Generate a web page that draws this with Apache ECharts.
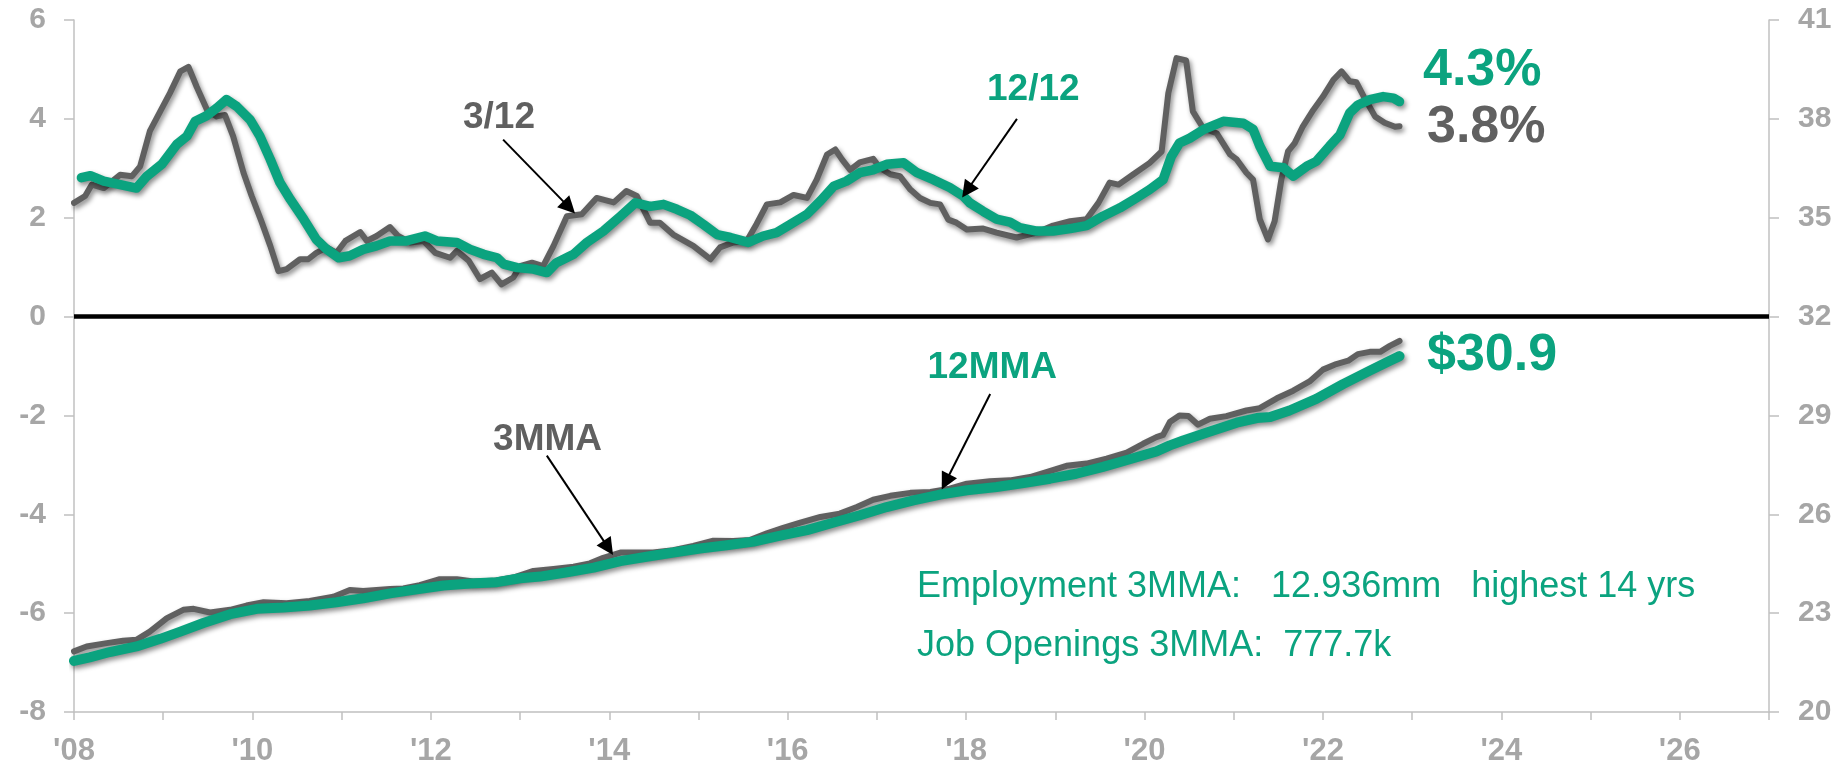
<!DOCTYPE html>
<html>
<head>
<meta charset="utf-8">
<script src="https://cdn.jsdelivr.net/npm/echarts@6/dist/echarts.min.js"></script>
<style>
html,body{margin:0;padding:0;background:#fff;}
#chart{width:1837px;height:767px;}
</style>
</head>
<body>
<div id="chart"></div>
<script>
// Month offsets are counted from Jan 2008 (0 = Jan 2008)
// Upper panel, left axis (%): 3/12 annualized growth (grey)
var m312 = [0,1.5,2.4,4,6.2,7.8,8.9,10.2,11.6,12.9,14.3,15.4,16.5,17.9,19.2,20.3,21.4,22.8,23.9,25.2,26.4,27.5,28.6,30.4,31.5,32.6,34,35.3,36.5,38.5,39.4,40.7,42.5,43.6,45.2,47,48.6,50.6,51.5,53.1,54.6,56.2,57.5,59.1,60,61.6,63.1,64.5,66.3,68.3,70.3,72.6,74.3,75.7,77.5,78.8,80.6,83.3,85.6,86.9,88.7,90.5,91.8,93.2,95,96.8,98.6,99.9,101.3,102.4,103.3,104.4,105.7,107.5,108.4,109.8,111.1,112.5,113.8,115.2,116.5,117.6,118.7,120.1,122.3,124.1,126.8,129.5,131.7,134,136.2,137.8,139.3,140.5,142.5,144.7,146.3,147.2,148.3,149.6,150.5,151.9,153.7,155.5,156.4,157.7,158.6,159.5,160.6,161.5,162.4,163.3,164.2,165.3,166.7,168,169.4,170.5,171.6,172.5,173.6,175,176.3,177.7,178.3];
var v312 = [2.30,2.44,2.67,2.60,2.87,2.84,3.04,3.75,4.15,4.52,4.96,5.05,4.65,4.18,4.05,4.08,3.65,2.91,2.44,1.93,1.43,0.92,0.96,1.16,1.16,1.29,1.40,1.29,1.53,1.71,1.53,1.63,1.81,1.63,1.50,1.53,1.29,1.19,1.33,1.13,0.76,0.89,0.65,0.79,1.02,1.09,1.02,1.43,2.03,2.07,2.40,2.31,2.54,2.44,1.90,1.90,1.66,1.43,1.16,1.40,1.50,1.53,1.87,2.27,2.31,2.46,2.40,2.77,3.28,3.38,3.18,2.97,3.12,3.19,3.01,2.88,2.84,2.57,2.40,2.30,2.27,1.96,1.90,1.76,1.78,1.70,1.60,1.70,1.84,1.93,1.97,2.30,2.71,2.67,2.88,3.11,3.34,4.52,5.23,5.18,4.15,3.81,3.71,3.28,3.18,2.91,2.77,1.97,1.56,1.93,2.77,3.34,3.51,3.85,4.18,4.45,4.79,4.96,4.76,4.74,4.42,4.05,3.92,3.84,3.85];

// Upper panel, left axis (%): 12/12 growth (green)
var m1212 = [1,2.2,4,6.2,8.4,9.8,11.8,13.8,15.2,16.3,17.8,19.2,20.5,21.9,23.7,25,26.4,27.7,29.1,30.9,32.6,34,35.6,37.1,38.9,40.7,42.5,44.7,47.2,48.8,51.5,53.3,55.1,56.9,57.8,59.6,61.8,63.6,64.9,67.2,69,71.2,73.5,75.5,77.5,79.3,81.1,82.9,84.7,86.5,88.3,90.7,92.7,94.5,96.3,98.6,100.4,102.2,103.9,105.7,107.5,109.3,111.6,113.4,115.6,117.8,119.6,120.5,122.3,124.1,125.9,127.2,129.5,131.7,134,136.2,138.4,140.7,142.9,144.7,146.5,147.6,148.7,150.1,151.9,154.6,157.3,158.6,159.5,160.9,162.7,164,165.8,167.1,168.9,170.3,171.6,172.7,174.3,176.1,177.5,178.3];
var v1212 = [2.81,2.85,2.74,2.67,2.60,2.84,3.08,3.48,3.65,3.95,4.06,4.22,4.39,4.25,3.98,3.65,3.18,2.71,2.37,1.97,1.56,1.36,1.19,1.23,1.36,1.43,1.53,1.53,1.63,1.53,1.50,1.36,1.26,1.19,1.06,0.99,0.96,0.89,1.09,1.26,1.50,1.73,2.03,2.30,2.23,2.27,2.17,2.05,1.86,1.66,1.60,1.50,1.63,1.70,1.86,2.07,2.34,2.64,2.74,2.91,2.97,3.08,3.11,2.91,2.77,2.61,2.44,2.30,2.13,1.97,1.91,1.80,1.73,1.73,1.78,1.84,2.03,2.20,2.40,2.57,2.77,3.24,3.51,3.61,3.78,3.95,3.91,3.79,3.45,3.04,3.01,2.84,3.04,3.14,3.45,3.68,4.12,4.28,4.39,4.45,4.42,4.35];

// Lower panel, right axis ($/hr): 3MMA (grey)
var m3mma = [0,1.7,4.4,6.6,8.4,10.2,12.5,14.7,16.1,18.3,21,23.2,25.5,28.6,31.7,34.9,37.1,38.9,40.7,42.5,44.3,46.5,49.2,51.5,53.7,56.4,59.1,61.8,64.5,67.2,69.4,71.2,73.5,75.7,77.9,80.6,83.3,86,88.7,90.9,93.2,95.4,97.7,100.4,103,105.3,107.5,109.8,112.5,115.2,117.8,120.1,123.2,125.9,128.6,130.8,133.5,136.2,138.9,141.6,143.8,145.6,146.5,147.4,148.7,149.9,151.2,152.8,155,157.7,159.5,161.8,164,166.2,168,169.8,171.4,172.7,174.3,175.7,177,178.3];
var v3mma = [21.84,21.99,22.09,22.16,22.19,22.44,22.85,23.10,23.13,23.02,23.10,23.23,23.33,23.30,23.37,23.50,23.70,23.67,23.70,23.73,23.75,23.85,24.03,24.03,23.96,23.98,24.08,24.28,24.34,24.41,24.51,24.68,24.84,24.84,24.84,24.91,25.04,25.20,25.19,25.22,25.42,25.59,25.75,25.92,26.02,26.22,26.44,26.56,26.65,26.68,26.78,26.93,27.00,27.03,27.13,27.28,27.47,27.54,27.69,27.87,28.14,28.34,28.41,28.80,29.00,28.98,28.72,28.90,28.98,29.15,29.22,29.52,29.75,30.03,30.39,30.56,30.66,30.86,30.93,30.93,31.11,31.26];

// Lower panel, right axis ($/hr): 12MMA (green)
var m12mma = [0,2.1,4.8,8.4,11.6,14.3,17.4,21,24.6,28.2,31.7,35.3,38.9,42.5,46.1,49.7,53.3,56.9,60,62.7,66.3,69.9,73.5,77,80.6,84.2,87.8,91.4,95,98.6,102.2,105.7,109.3,112.9,116.5,120.1,124.1,127.7,131.3,134.8,138.4,142,145.6,147.4,149.2,152.8,156.4,159.1,160.9,163.5,167.1,170.7,174.3,177,178.3];
var v12mma = [21.55,21.66,21.82,21.99,22.22,22.44,22.70,22.97,23.13,23.17,23.23,23.33,23.45,23.60,23.72,23.84,23.90,23.94,24.06,24.11,24.24,24.38,24.58,24.71,24.84,24.96,25.06,25.17,25.35,25.52,25.75,25.97,26.22,26.42,26.60,26.73,26.83,26.95,27.08,27.23,27.44,27.67,27.91,28.09,28.24,28.51,28.78,28.92,28.95,29.15,29.50,29.95,30.36,30.66,30.80];

var startYear = 2008;
var leftTicks = {min: -8, max: 6, interval: 2};
var rightTicks = {min: 20, max: 41, interval: 3};
var xTicks = {min: 2008, max: 2027, interval: 1};

var GREEN = '#0ba37f';
var GREY = '#606060';
var FONT = '"Liberation Sans", Arial, sans-serif';

function pairs(ms, vs) {
  return ms.map(function (mm, i) { return [startYear + mm / 12, vs[i]]; });
}

var shadow = {shadowColor: 'rgba(0,0,0,0.45)', shadowBlur: 5, shadowOffsetX: 2, shadowOffsetY: 3};
function ls(color, width) {
  return Object.assign({color: color, width: width, cap: 'round', join: 'round'}, shadow);
}
var arrowStyle = {color: '#000', width: 2, type: 'solid'};

var chart = echarts.init(document.getElementById('chart'), null, {renderer: 'canvas'});

var axisLabelBase = {color: '#a6a6a6', fontWeight: 'bold', fontSize: 30, fontFamily: FONT};

function txt(x, y, s, size, color, align, bold) {
  return {type: 'text', x: x, y: y, z: 10, style: {
    text: s, font: (bold ? 'bold ' : '') + size + 'px ' + FONT, fill: color,
    textAlign: align, textVerticalAlign: 'middle', align: align, verticalAlign: 'middle'}};
}

var option = {
  animation: false,
  backgroundColor: '#ffffff',
  grid: {left: 74, right: 68, top: 20, bottom: 53, containLabel: false},
  xAxis: {
    type: 'value', min: xTicks.min, max: xTicks.max, interval: xTicks.interval,
    axisLine: {show: true, onZero: false, lineStyle: {color: '#c0c0c0', width: 1.5}},
    axisTick: {show: true, length: 8, lineStyle: {color: '#c0c0c0', width: 1.5}},
    splitLine: {show: false},
    axisLabel: Object.assign({}, axisLabelBase, {
      fontSize: 31, margin: 24,
      formatter: function (v) { v = Math.round(v); return (v % 2 === 0) ? "'" + String(v).slice(2) : ''; }
    })
  },
  yAxis: [{
    type: 'value', position: 'left', min: leftTicks.min, max: leftTicks.max, interval: leftTicks.interval,
    axisLine: {show: true, onZero: false, lineStyle: {color: '#c0c0c0', width: 1.5}},
    axisTick: {show: true, length: 10, lineStyle: {color: '#c0c0c0', width: 1.5}},
    splitLine: {show: false},
    axisLabel: Object.assign({}, axisLabelBase, {margin: 28})
  }, {
    type: 'value', position: 'right', min: rightTicks.min, max: rightTicks.max, interval: rightTicks.interval,
    axisLine: {show: true, onZero: false, lineStyle: {color: '#c0c0c0', width: 1.5}},
    axisTick: {show: true, length: 10, lineStyle: {color: '#c0c0c0', width: 1.5}},
    splitLine: {show: false},
    axisLabel: Object.assign({}, axisLabelBase, {margin: 29})
  }],
  series: [{
    name: '3/12', type: 'line', yAxisIndex: 0, data: pairs(m312, v312),
    showSymbol: false, symbol: 'none', lineStyle: ls(GREY, 6), z: 3,
    markLine: {
      silent: true, symbol: ['none', 'triangle'], symbolSize: 17, animation: false,
      label: {show: false}, lineStyle: arrowStyle, itemStyle: {color: '#000'},
      data: [
        [{coord: [2012.81, 3.58]}, {coord: [2013.55, 2.21]}],
        [{coord: [2018.57, 4.00]}, {coord: [2018.01, 2.55]}]
      ]
    }
  }, {
    name: '12/12', type: 'line', yAxisIndex: 0, data: pairs(m1212, v1212),
    showSymbol: false, symbol: 'none', lineStyle: ls(GREEN, 9.5), z: 4,
    markLine: {
      silent: true, symbol: ['none', 'none'], animation: false,
      label: {show: false}, lineStyle: {color: '#000', width: 4.5, type: 'solid'},
      data: [{yAxis: 0}]
    }
  }, {
    name: '3MMA', type: 'line', yAxisIndex: 1, data: pairs(m3mma, v3mma),
    showSymbol: false, symbol: 'none', lineStyle: ls(GREY, 6), z: 3,
    markLine: {
      silent: true, symbol: ['none', 'triangle'], symbolSize: 17, animation: false,
      label: {show: false}, lineStyle: arrowStyle, itemStyle: {color: '#000'},
      data: [
        [{coord: [2013.30, 27.78]}, {coord: [2013.99, 24.98]}],
        [{coord: [2018.27, 29.65]}, {coord: [2017.77, 26.98]}]
      ]
    }
  }, {
    name: '12MMA', type: 'line', yAxisIndex: 1, data: pairs(m12mma, v12mma),
    showSymbol: false, symbol: 'none', lineStyle: ls(GREEN, 10), z: 4
  }],
  graphic: [
    txt(463, 118, '3/12', 37, GREY, 'left', true),
    txt(987, 90, '12/12', 37, GREEN, 'left', true),
    txt(1057, 368, '12MMA', 37, GREEN, 'right', true),
    txt(602, 440, '3MMA', 37, GREY, 'right', true),
    txt(1423, 71, '4.3%', 52, GREEN, 'left', true),
    txt(1427, 128, '3.8%', 52, GREY, 'left', true),
    txt(1427, 356, '$30.9', 52, GREEN, 'left', true),
    txt(917, 587, 'Employment 3MMA:   12.936mm   highest 14 yrs', 36, GREEN, 'left', false),
    txt(917, 646, 'Job Openings 3MMA:  777.7k', 36, GREEN, 'left', false)
  ]
};
chart.setOption(option);
</script>
</body>
</html>
